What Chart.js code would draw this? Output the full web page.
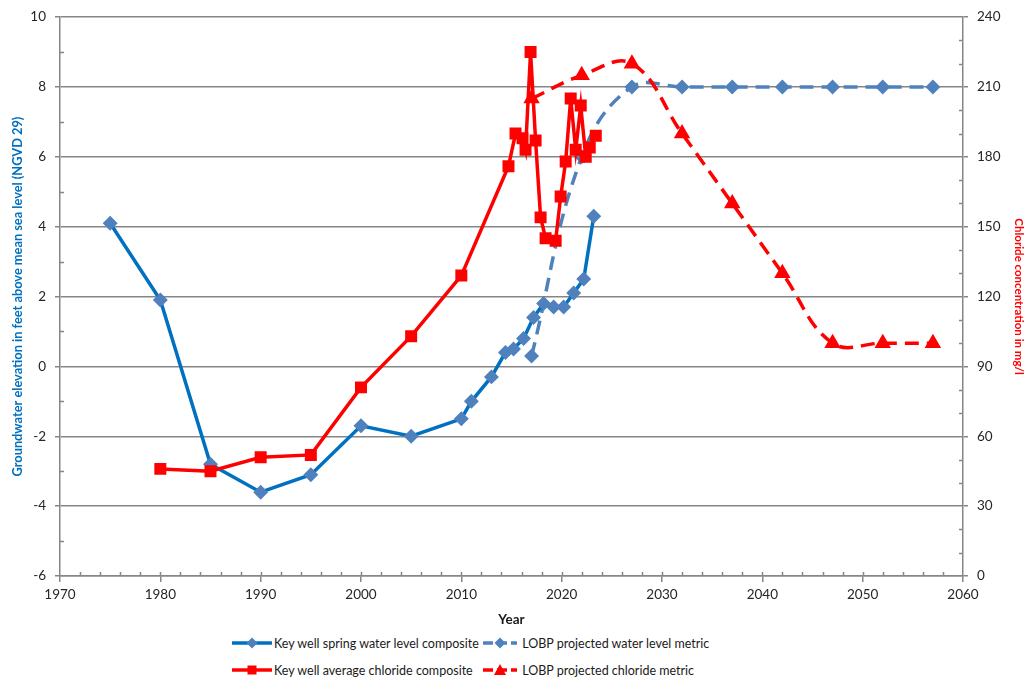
<!DOCTYPE html>
<html>
<head>
<meta charset="utf-8">
<script src="https://cdn.jsdelivr.net/npm/chart.js@4.4.1/dist/chart.umd.min.js"></script>
<style>
  body { margin: 0; background: #fff; }
  #wrap { position: relative; width: 1026px; height: 679px; overflow: hidden; }
  #box { position: absolute; left: 0; top: 0; width: 1026px; height: 632px; }
  .item { position: absolute; display: flex; align-items: center; white-space: nowrap;
          font-family: Lato, sans-serif; font-size: 12.5px; color: #1a1a1a; height: 18px; }
  .item svg { margin-right: 2px; }
</style>
</head>
<body>
<div id="wrap">
  <div id="box"><canvas id="grafico"></canvas></div>
  <div class="item" style="left:232px; top:634px;">
    <svg width="40" height="14"><line x1="0" y1="7" x2="40" y2="7" stroke="#0070C0" stroke-width="3.5"/><polygon points="20,1.5 25.5,7 20,12.5 14.5,7" fill="#4F81BD"/></svg>Key well spring water level composite
  </div>
  <div class="item" style="left:483px; top:634px;">
    <svg width="34" height="14"><line x1="0" y1="7" x2="34" y2="7" stroke="#4F81BD" stroke-width="3.5" stroke-dasharray="10 4"/><polygon points="17,1.5 22.5,7 17,12.5 11.5,7" fill="#4F81BD"/></svg>&nbsp;LOBP projected water level metric
  </div>
  <div class="item" style="left:232px; top:661px;">
    <svg width="40" height="14"><line x1="0" y1="7" x2="40" y2="7" stroke="#FF0000" stroke-width="3.5"/><rect x="15.5" y="2.5" width="9" height="9" fill="#FF0000"/></svg>Key well average chloride composite
  </div>
  <div class="item" style="left:483px; top:661px;">
    <svg width="34" height="14"><line x1="0" y1="7" x2="34" y2="7" stroke="#FF0000" stroke-width="3.5" stroke-dasharray="10 4"/><polygon points="17,1 23,12 11,12" fill="#FF0000"/></svg>&nbsp;LOBP projected chloride metric
  </div>
</div>
<script>
// nivel de agua (pies sobre nivel del mar)
const aguaAnios = [1975, 1980, 1985, 1990, 1995, 2000, 2005, 2010, 2011, 2013, 2014.4, 2015.2, 2016.2, 2017.2, 2018.2, 2019.2, 2020.2, 2021.2, 2022.2, 2023.2];
const aguaNivel = [4.1, 1.9, -2.8, -3.6, -3.1, -1.7, -2.0, -1.5, -1.0, -0.3, 0.4, 0.5, 0.8, 1.4, 1.8, 1.7, 1.7, 2.1, 2.5, 4.3];

const proyAguaAnios = [2017, 2022, 2027, 2032, 2037, 2042, 2047, 2052, 2057];
const proyAguaNivel = [0.3, 6.0, 8, 8, 8, 8, 8, 8, 8];

// cloruro (mg/l)
const cloruroAnios = [1980, 1985, 1990, 1995, 2000, 2005, 2010, 2014.7, 2015.4, 2016.1, 2016.4, 2016.9, 2017.4, 2017.9, 2018.4, 2019.4, 2019.9, 2020.4, 2020.9, 2021.4, 2021.9, 2022.4, 2022.8, 2023.4];
const cloruroValor = [46, 45, 51, 52, 81, 103, 129, 176, 190, 188, 183, 225, 187, 154, 145, 144, 163, 178, 205, 183, 202, 180, 184, 189];

const proyCloruroAnios = [2017, 2022, 2027, 2032, 2037, 2042, 2047, 2052, 2057];
const proyCloruroValor = [205, 215, 220, 190, 160, 130, 100, 100, 100];

// ejes
const ejeX = { min: 1970, max: 2060, paso: 10 };
const ejeIzq = { min: -6, max: 10, paso: 2 };
const ejeDer = { min: 0, max: 240, paso: 30 };

const gris = "#868686";
const puntos = (xs, ys) => xs.map((x, i) => ({ x: x, y: ys[i] }));

// marcas menores hacia adentro
const marcasMenores = {
  id: "marcasMenores",
  beforeDatasetsDraw(chart) {
    const { ctx, chartArea: a, scales } = chart;
    ctx.save();
    ctx.strokeStyle = gris;
    ctx.lineWidth = 1.5;
    ctx.beginPath();
    for (let v = ejeX.min + 2; v < ejeX.max; v += 2) {
      const px = Math.round(scales.x.getPixelForValue(v)) + 0.5;
      ctx.moveTo(px, a.bottom);
      ctx.lineTo(px, a.bottom - 4);
    }
    for (let v = ejeIzq.min + 1; v < ejeIzq.max; v += 2) {
      const py = Math.round(scales.y.getPixelForValue(v)) + 0.5;
      ctx.moveTo(a.left, py);
      ctx.lineTo(a.left + 4, py);
    }
    for (let v = 10; v < ejeDer.max; v += 10) {
      if (v % 30 === 0) continue;
      const py = Math.round(scales.y2.getPixelForValue(v)) + 0.5;
      ctx.moveTo(a.right, py);
      ctx.lineTo(a.right - 4, py);
    }
    ctx.stroke();
    ctx.restore();
  }
};

Chart.defaults.font.family = "Lato, sans-serif";
Chart.defaults.color = "#262626";

const ctx = document.getElementById("grafico").getContext("2d");

new Chart(ctx, {
  type: "line",
  data: {
    datasets: [
      {
        label: "Key well spring water level composite",
        data: puntos(aguaAnios, aguaNivel),
        yAxisID: "y",
        borderColor: "#0070C0",
        backgroundColor: "#4F81BD",
        pointBackgroundColor: "#4F81BD",
        pointBorderColor: "#4F81BD",
        borderWidth: 3.5,
        pointStyle: "rectRot",
        pointRadius: 5,
        tension: 0,
        order: 3
      },
      {
        label: "LOBP projected water level metric",
        data: puntos(proyAguaAnios, proyAguaNivel),
        yAxisID: "y",
        borderColor: "#4F81BD",
        backgroundColor: "#4F81BD",
        pointBackgroundColor: "#4F81BD",
        pointBorderColor: "#4F81BD",
        borderWidth: 3.5,
        borderDash: [14, 8],
        pointStyle: "rectRot",
        pointRadius: 5,
        tension: 0.4,
        order: 4
      },
      {
        label: "Key well average chloride composite",
        data: puntos(cloruroAnios, cloruroValor),
        yAxisID: "y2",
        borderColor: "#FF0000",
        backgroundColor: "#FF0000",
        pointBackgroundColor: "#FF0000",
        pointBorderColor: "#FF0000",
        borderWidth: 3.5,
        pointStyle: "rect",
        pointRadius: 6,
        tension: 0,
        order: 1
      },
      {
        label: "LOBP projected chloride metric",
        data: puntos(proyCloruroAnios, proyCloruroValor),
        yAxisID: "y2",
        borderColor: "#FF0000",
        backgroundColor: "#FF0000",
        pointBackgroundColor: "#FF0000",
        pointBorderColor: "#FF0000",
        borderWidth: 3.5,
        borderDash: [14, 8],
        pointStyle: "triangle",
        pointRadius: 6,
        tension: 0.4,
        order: 2
      }
    ]
  },
  options: {
    responsive: true,
    maintainAspectRatio: false,
    animation: false,
    devicePixelRatio: 1,
    layout: { padding: { top: 17, left: 0, right: 0, bottom: 0 } },
    plugins: {
      legend: { display: false },
      tooltip: { enabled: false }
    },
    scales: {
      x: {
        type: "linear",
        min: ejeX.min,
        max: ejeX.max,
        afterFit: s => { s.height = 56; },
        ticks: {
          stepSize: ejeX.paso,
          padding: 5,
          maxRotation: 0,
          font: { size: 13.5 },
          callback: v => String(v)
        },
        grid: { drawOnChartArea: false, color: gris, lineWidth: 1.5, tickLength: 6 },
        border: { color: gris, width: 1.5 },
        title: { display: true, text: "Year", font: { size: 13.5, weight: "bold" }, color: "#1a1a1a", padding: { top: 0, bottom: 4 } }
      },
      y: {
        position: "left",
        min: ejeIzq.min,
        max: ejeIzq.max,
        afterFit: s => { s.width = 60; },
        ticks: { stepSize: ejeIzq.paso, padding: 9, font: { size: 13.5 } },
        grid: { color: gris, lineWidth: 1.5, tickLength: 5 },
        border: { color: gris, width: 1.5 },
        title: {
          display: true,
          text: "Groundwater elevation in feet above mean sea level (NGVD 29)",
          color: "#0070C0",
          font: { size: 12.8, weight: "bold" },
          padding: { top: 10, bottom: 0 }
        }
      },
      y2: {
        position: "right",
        min: ejeDer.min,
        max: ejeDer.max,
        afterFit: s => { s.width = 63; },
        ticks: { stepSize: ejeDer.paso, padding: 9, font: { size: 13.5 } },
        grid: { drawOnChartArea: false, color: gris, lineWidth: 1.5, tickLength: 5 },
        border: { color: gris, width: 1.5 },
        title: {
          display: true,
          text: "Chloride concentration in mg/l",
          color: "#FF0000",
          font: { size: 11.5, weight: "bold" },
          padding: { top: 0, bottom: 0 }
        }
      }
    }
  },
  plugins: [marcasMenores]
});
</script>
</body>
</html>
